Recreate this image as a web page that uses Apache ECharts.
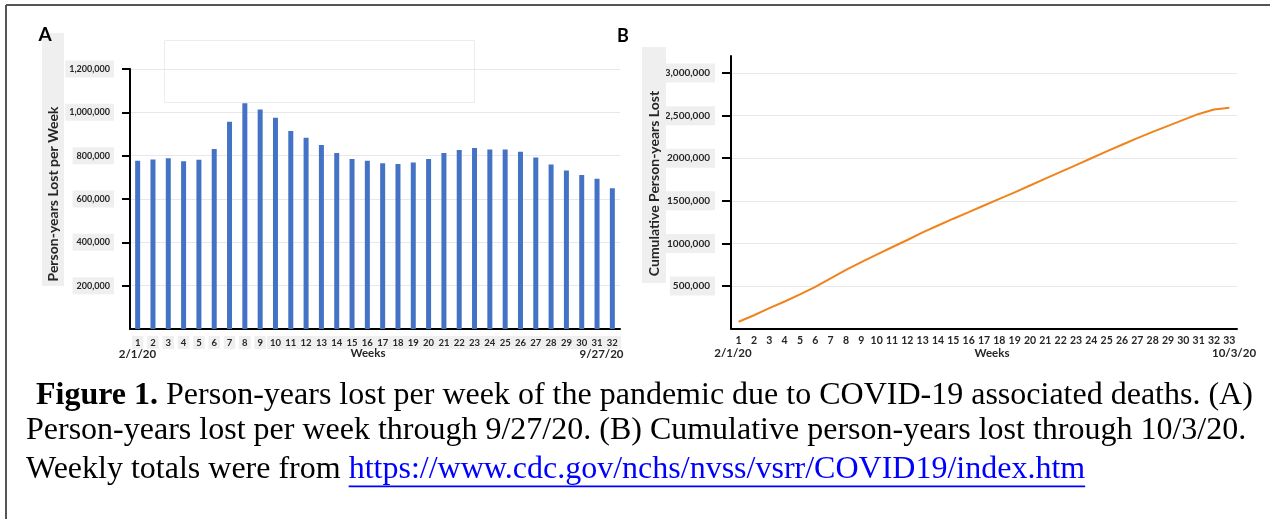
<!DOCTYPE html>
<html>
<head>
<meta charset="utf-8">
<script src="https://cdn.jsdelivr.net/npm/echarts@6/dist/echarts.min.js"></script>
<style>
html,body{margin:0;padding:0;background:#fff;}
#c{width:1270px;height:519px;}
</style>
</head>
<body>
<div id="c"></div>
<script>
// ---------- DATA ----------
const weeksA = ['1','2','3','4','5','6','7','8','9','10','11','12','13','14','15','16','17','18','19','20','21','22','23','24','25','26','27','28','29','30','31','32'];
const personYearsPerWeek = [777000, 782000, 788000, 774000, 781000, 831000, 956000, 1042000, 1013000, 975000, 914000, 883000, 849000, 812000, 785000, 776000, 765000, 762000, 769000, 785000, 812000, 826000, 835000, 829000, 829000, 818000, 792000, 759000, 731000, 711000, 693000, 650000];

const weeksB = ['1','2','3','4','5','6','7','8','9','10','11','12','13','14','15','16','17','18','19','20','21','22','23','24','25','26','27','28','29','30','31','32','33'];
const cumulativePersonYears = [80000, 157000, 240000, 318000, 401000, 490000, 590000, 690000, 780000, 868000, 955000, 1040000, 1130000, 1210000, 1290000, 1367000, 1445000, 1522000, 1600000, 1680000, 1760000, 1840000, 1920000, 2000000, 2080000, 2158000, 2236000, 2310000, 2380000, 2450000, 2520000, 2572000, 2592000];

const yTicksA = [200000, 400000, 600000, 800000, 1000000, 1200000];
const yTickLabelsA = ['200,000', '400,000', '600,000', '800,000', '1,000,000', '1,200,000'];
const yTicksB = [500000, 1000000, 1500000, 2000000, 2500000, 3000000];
const yTickLabelsB = ['500,000', '1000,000', '1500,000', '2000,000', '2,500,000', '3,000,000'];

const panelA = 'A', panelB = 'B';
const yNameA = 'Person-years Lost per Week';
const yNameB = 'Cumulative Person-years Lost';
const xNameA = 'Weeks', xNameB = 'Weeks';
const startA = '2/1/20', endA = '9/27/20';
const startB = '2/1/20', endB = '10/3/20';
const captionBold = 'Figure 1.';
const caption1 = ' Person-years lost per week of the pandemic due to COVID-19 associated deaths. (A)';
const caption2 = 'Person-years lost per week through 9/27/20. (B) Cumulative person-years lost through 10/3/20.';
const caption3 = 'Weekly totals were from ';
const captionLink = 'https://www.cdc.gov/nchs/nvss/vsrr/COVID19/index.htm';

// ---------- CHART ----------
const FONT = 'Lato';
const SERIF = 'Liberation Serif';
const CAP = 32;
const lblCol = '#262626';

function measure(text, font) {
  const cv = document.createElement('canvas').getContext('2d');
  cv.font = font;
  return cv.measureText(text).width;
}
const boldW = measure(captionBold, 'bold ' + CAP + 'px "' + SERIF + '"');
const plain3W = measure(caption3, CAP + 'px "' + SERIF + '"');
const linkW = measure(captionLink, CAP + 'px "' + SERIF + '"');

function fmt(ticks, labels) {
  return function (v) { const i = ticks.indexOf(v); return i < 0 ? '' : labels[i]; };
}

const chart = echarts.init(document.getElementById('c'), null, {renderer: 'canvas'});

const txt = (x, y, text, opt, rot) => ({
  type: 'text', x: x, y: y, rotation: rot || 0, silent: true, z: 20,
  style: Object.assign({text: text, fill: lblCol, font: 'bold 11.5px ' + FONT, align: 'center', verticalAlign: 'middle'}, opt || {})
});

chart.setOption({
  animation: false,
  backgroundColor: '#ffffff',
  grid: [
    {left: 130, top: 69, width: 490, height: 260},
    {left: 731, top: 56, width: 506, height: 272.6}
  ],
  xAxis: [
    {
      type: 'category', gridIndex: 0, data: weeksA, boundaryGap: true,
      axisLine: {lineStyle: {color: '#000', width: 2}},
      axisTick: {show: false},
      axisLabel: {interval: 0, margin: 7, color: lblCol, fontFamily: FONT, fontWeight: 'bold', fontSize: 9.5,
        backgroundColor: '#efefef', padding: [2, 3, 1, 3]}
    },
    {
      type: 'category', gridIndex: 1, data: weeksB, boundaryGap: true,
      axisLine: {lineStyle: {color: '#000', width: 2}},
      axisTick: {show: false},
      axisLabel: {interval: 0, margin: 7, color: lblCol, fontFamily: FONT, fontWeight: 'bold', fontSize: 10.5}
    }
  ],
  yAxis: [
    {
      type: 'value', gridIndex: 0, min: 0, max: 1200000, interval: 200000,
      axisLine: {show: true, lineStyle: {color: '#000', width: 2}},
      axisTick: {show: true, length: 8, lineStyle: {color: '#000', width: 2}, customValues: yTicksA},
      splitLine: {lineStyle: {color: '#e8e8e8', width: 1}},
      axisLabel: {customValues: yTicksA, formatter: fmt(yTicksA, yTickLabelsA), margin: 16, color: lblCol,
        fontFamily: FONT, fontWeight: 'bold', fontSize: 9, backgroundColor: '#efefef', padding: [4, 4, 4, 4]}
    },
    {
      type: 'value', gridIndex: 1, min: 0, max: 3200000, interval: 500000,
      axisLine: {show: true, lineStyle: {color: '#000', width: 2}},
      axisTick: {show: true, length: 9, lineStyle: {color: '#000', width: 2}, customValues: yTicksB},
      splitLine: {lineStyle: {color: '#e8e8e8', width: 1}},
      axisLabel: {customValues: yTicksB, formatter: fmt(yTicksB, yTickLabelsB), margin: 16, color: lblCol,
        fontFamily: FONT, fontWeight: 'bold', fontSize: 10, backgroundColor: '#efefef', padding: [5, 5, 4, 3]}
    }
  ],
  series: [
    {
      type: 'bar', xAxisIndex: 0, yAxisIndex: 0, data: personYearsPerWeek, barWidth: 5,
      itemStyle: {color: '#4472C4'}
    },
    {
      type: 'line', xAxisIndex: 1, yAxisIndex: 1, data: cumulativePersonYears, showSymbol: false,
      smooth: false, lineStyle: {color: '#F0841C', width: 2}, itemStyle: {color: '#F0841C'}
    }
  ],
  graphic: [
    // outer frame
    {type: 'line', silent: true, shape: {x1: 6, y1: 5, x2: 1270, y2: 5}, style: {stroke: '#555', lineWidth: 2}},
    {type: 'line', silent: true, shape: {x1: 6, y1: 5, x2: 6, y2: 519}, style: {stroke: '#555', lineWidth: 2}},
    // empty title placeholder in panel A
    {type: 'rect', silent: true, shape: {x: 164.5, y: 40.5, width: 310, height: 62}, style: {fill: 'none', stroke: '#ececec', lineWidth: 1}},
    // axis-name boxes
    {type: 'rect', silent: true, z: 10, shape: {x: 42, y: 33, width: 22, height: 253}, style: {fill: '#efefef'}},
    {type: 'rect', silent: true, z: 10, shape: {x: 642, y: 47, width: 24, height: 236}, style: {fill: '#efefef'}},
    // panel letters
    txt(45, 35, panelA, {font: 'bold 19px ' + FONT, fill: '#000'}),
    txt(623, 36, panelB, {font: 'bold 18px ' + FONT, fill: '#000'}),
    // axis names
    txt(53, 194, yNameA, {font: 'bold 14px ' + FONT}, Math.PI / 2),
    txt(654.5, 183.5, yNameB, {font: 'bold 14px ' + FONT}, Math.PI / 2),
    // under-axis texts
    txt(137.5, 354, startA),
    txt(368, 353, xNameA),
    txt(601.5, 354, endA),
    txt(733, 353.5, startB),
    txt(992, 353, xNameB),
    txt(1212, 353.5, endB, {align: 'left'}),
    // caption
    txt(36, 396, captionBold, {font: 'bold ' + CAP + 'px "' + SERIF + '"', fill: '#000', align: 'left'}),
    txt(36 + boldW, 396, caption1, {font: CAP + 'px "' + SERIF + '"', fill: '#000', align: 'left'}),
    txt(26, 431, caption2, {font: CAP + 'px "' + SERIF + '"', fill: '#000', align: 'left'}),
    txt(26, 469.5, caption3, {font: CAP + 'px "' + SERIF + '"', fill: '#000', align: 'left'}),
    txt(26 + plain3W, 469.5, captionLink, {font: CAP + 'px "' + SERIF + '"', fill: '#0000FF', align: 'left'}),
    {type: 'rect', silent: true, z: 20, shape: {x: 26 + plain3W, y: 485.5, width: linkW, height: 1.8}, style: {fill: '#0000FF'}}
  ]
});
</script>
</body>
</html>
